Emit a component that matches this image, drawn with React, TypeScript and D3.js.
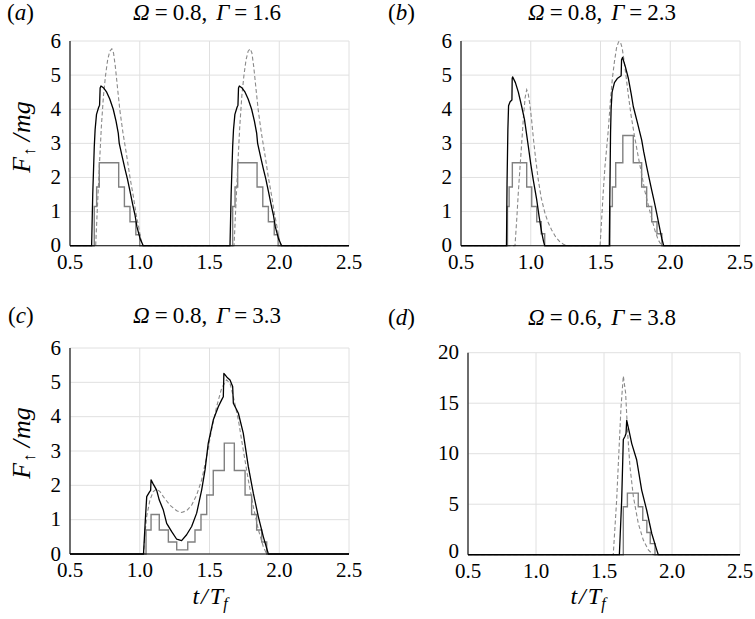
import React from "react";
import * as d3 from "d3";

// ---------- data ----------
const X_TICKS = [0.5, 1.0, 1.5, 2.0, 2.5];
const Y_TICKS_SMALL = [0, 1, 2, 3, 4, 5, 6];
const Y_TICKS_LARGE = [0, 5, 10, 15, 20];

const TITLES = [
  { omega: "0.8", gamma: "1.6", tag: "a" },
  { omega: "0.8", gamma: "2.3", tag: "b" },
  { omega: "0.8", gamma: "3.3", tag: "c" },
  { omega: "0.6", gamma: "3.8", tag: "d" },
];

// Panel (a)
const blackA: [number, number][] = [
  [0.5, 0], [0.655, 0], [0.663, 1.5], [0.674, 2.9], [0.68, 3.4], [0.69, 3.85], [0.705, 4.05], [0.712, 4.12],
  [0.716, 4.62], [0.722, 4.68], [0.742, 4.62], [0.763, 4.5], [0.785, 4.3], [0.81, 4.0], [0.83, 3.65],
  [0.846, 3.3], [0.853, 3.0], [0.872, 2.65], [0.894, 2.25], [0.912, 1.95], [0.93, 1.6], [0.95, 1.2],
  [0.966, 0.9], [0.98, 0.55], [0.99, 0.4], [1.003, 0.2], [1.014, 0.1], [1.025, 0],
  [1.647, 0], [1.655, 1.5], [1.666, 2.9], [1.672, 3.4], [1.682, 3.85], [1.697, 4.05], [1.704, 4.12],
  [1.708, 4.62], [1.714, 4.68], [1.734, 4.62], [1.755, 4.5], [1.777, 4.3], [1.802, 4.0], [1.822, 3.65],
  [1.838, 3.3], [1.845, 3.0], [1.864, 2.65], [1.886, 2.25], [1.904, 1.95], [1.922, 1.6], [1.942, 1.2],
  [1.958, 0.9], [1.972, 0.55], [1.982, 0.4], [1.995, 0.2], [2.006, 0.1], [2.017, 0], [2.5, 0],
];
const dashA: [number, number][] = [
  [0.5, 0], [0.684, 0], [0.695, 1.0], [0.71, 2.3], [0.725, 3.5], [0.74, 4.4], [0.755, 5.0], [0.77, 5.45],
  [0.785, 5.7], [0.8, 5.77], [0.812, 5.65], [0.825, 5.25], [0.84, 4.65], [0.858, 3.95], [0.88, 3.3],
  [0.906, 2.65], [0.93, 2.0], [0.954, 1.45], [0.975, 0.9], [0.99, 0.6], [1.005, 0.25], [1.02, 0],
  [1.676, 0], [1.687, 1.0], [1.702, 2.3], [1.717, 3.5], [1.732, 4.4], [1.747, 5.0], [1.762, 5.45],
  [1.777, 5.7], [1.792, 5.77], [1.804, 5.65], [1.817, 5.25], [1.832, 4.65], [1.85, 3.95], [1.872, 3.3],
  [1.898, 2.65], [1.922, 2.0], [1.946, 1.45], [1.967, 0.9], [1.982, 0.6], [1.997, 0.25], [2.012, 0], [2.5, 0],
];
const stepA: [number, number][] = [
  [0.5, 0], [0.674, 1.15], [0.691, 1.72], [0.71, 2.43], [0.849, 1.72], [0.89, 1.15], [0.93, 0.7],
  [0.972, 0.32], [1.0, 0],
  [1.666, 1.15], [1.683, 1.72], [1.702, 2.43], [1.841, 1.72], [1.882, 1.15], [1.922, 0.7],
  [1.964, 0.32], [1.992, 0], [2.5, 0],
];

// Panel (b)
const blackB: [number, number][] = [
  [0.5, 0], [0.826, 0], [0.83, 1.8], [0.836, 3.4], [0.841, 4.1], [0.852, 4.22], [0.865, 4.27],
  [0.867, 4.9], [0.87, 4.95], [0.89, 4.78], [0.911, 4.5], [0.935, 4.08], [0.955, 3.7], [0.966, 3.39],
  [0.983, 2.9], [1.0, 2.4], [1.018, 1.93], [1.043, 1.34], [1.06, 0.85], [1.078, 0.4], [1.092, 0.12], [1.1, 0],
  [1.563, 0], [1.567, 1.5], [1.572, 3.3], [1.576, 4.0], [1.583, 4.5], [1.6, 4.78], [1.62, 4.9],
  [1.648, 4.98], [1.651, 5.45], [1.658, 5.52], [1.678, 5.25], [1.7, 4.9], [1.72, 4.45], [1.735, 4.08],
  [1.765, 3.6], [1.795, 3.1], [1.81, 2.75], [1.831, 2.32], [1.85, 1.95], [1.867, 1.63], [1.885, 1.3],
  [1.903, 0.95], [1.927, 0.46], [1.94, 0.2], [1.953, 0], [2.5, 0],
];
const dashB: [number, number][] = [
  [0.5, 0], [0.887, 0], [0.9, 0.8], [0.91, 1.5], [0.923, 2.3], [0.935, 3.0], [0.948, 3.8], [0.96, 4.35],
  [0.971, 4.57], [0.982, 4.45], [0.995, 4.1], [1.007, 3.65], [1.02, 3.1], [1.035, 2.55], [1.054, 1.93],
  [1.075, 1.4], [1.102, 0.95], [1.125, 0.68], [1.15, 0.46], [1.18, 0.25], [1.21, 0.11], [1.235, 0.04],
  [1.258, 0], [1.497, 0], [1.51, 0.9], [1.52, 1.6], [1.532, 2.32], [1.545, 2.9], [1.556, 3.4], [1.57, 4.2],
  [1.585, 4.9], [1.6, 5.4], [1.615, 5.8], [1.63, 5.98], [1.642, 5.98], [1.655, 5.8], [1.67, 5.4],
  [1.685, 4.9], [1.7, 4.4], [1.72, 3.8], [1.74, 3.3], [1.771, 2.6], [1.795, 2.1], [1.818, 1.6],
  [1.845, 1.15], [1.867, 0.8], [1.89, 0.45], [1.914, 0.17], [1.938, 0], [2.5, 0],
];
const stepB: [number, number][] = [
  [0.5, 0], [0.833, 1.15], [0.845, 1.72], [0.868, 2.43], [0.971, 1.72], [1.007, 1.15], [1.043, 0.7],
  [1.075, 0.35], [1.1, 0],
  [1.568, 1.15], [1.585, 1.72], [1.609, 2.43], [1.66, 3.23], [1.735, 2.43], [1.795, 1.72],
  [1.831, 1.15], [1.867, 0.7], [1.905, 0.35], [1.94, 0], [2.5, 0],
];

// Panel (c)
const blackC: [number, number][] = [
  [0.5, 0], [1.027, 0], [1.04, 1.0], [1.05, 1.67], [1.069, 1.8], [1.078, 1.85], [1.081, 2.16],
  [1.095, 2.05], [1.121, 1.86], [1.14, 1.57], [1.169, 1.28], [1.193, 0.89], [1.229, 0.65], [1.265, 0.43],
  [1.3, 0.39], [1.336, 0.56], [1.372, 0.8], [1.408, 1.19], [1.444, 1.87], [1.468, 2.45], [1.491, 3.22],
  [1.527, 3.9], [1.563, 4.29], [1.587, 4.49], [1.599, 4.58], [1.603, 5.26], [1.625, 5.15], [1.647, 5.07],
  [1.666, 4.88], [1.671, 4.39], [1.707, 4.1], [1.742, 3.52], [1.778, 2.55], [1.814, 1.77], [1.85, 1.09],
  [1.886, 0.5], [1.922, 0], [2.5, 0],
];
const dashC: [number, number][] = [
  [0.5, 0], [1.027, 0], [1.04, 0.7], [1.05, 1.1], [1.073, 1.57], [1.097, 1.82], [1.121, 1.89],
  [1.145, 1.82], [1.169, 1.67], [1.217, 1.42], [1.265, 1.26], [1.3, 1.21], [1.336, 1.26], [1.372, 1.42],
  [1.408, 1.72], [1.444, 2.16], [1.48, 2.84], [1.515, 3.62], [1.551, 4.29], [1.587, 4.83], [1.623, 5.07],
  [1.647, 4.97], [1.671, 4.58], [1.707, 3.9], [1.742, 3.03], [1.778, 2.16], [1.814, 1.38], [1.85, 0.71],
  [1.886, 0.21], [1.91, 0], [2.5, 0],
];
const stepC: [number, number][] = [
  [0.5, 0], [1.045, 0.7], [1.081, 1.15], [1.14, 0.7], [1.205, 0.35], [1.265, 0.12], [1.344, 0.35],
  [1.396, 0.7], [1.439, 1.15], [1.48, 1.72], [1.527, 2.43], [1.606, 3.23], [1.678, 2.43], [1.755, 1.72],
  [1.802, 1.15], [1.838, 0.7], [1.874, 0.35], [1.91, 0], [2.5, 0],
];

// Panel (d)
const blackD: [number, number][] = [
  [0.5, 0], [1.613, 0], [1.63, 5.4], [1.642, 11.4], [1.654, 11.7], [1.662, 12.0], [1.667, 13.3],
  [1.685, 12.2], [1.704, 11.0], [1.74, 9.4], [1.777, 6.4], [1.814, 4.4], [1.851, 2.1], [1.887, 0.5],
  [1.899, 0], [2.5, 0],
];
const dashD: [number, number][] = [
  [0.5, 0], [1.568, 0], [1.593, 5.4], [1.61, 10.3], [1.625, 14.6], [1.642, 17.7], [1.659, 16.0],
  [1.674, 12.0], [1.691, 8.7], [1.716, 5.75], [1.752, 3.1], [1.789, 1.45], [1.826, 0.47], [1.862, 0], [2.5, 0],
];
const stepD: [number, number][] = [
  [0.5, 0], [1.642, 4.75], [1.672, 6.1], [1.752, 4.75], [1.785, 3.4], [1.815, 2.2], [1.84, 1.1],
  [1.875, 0], [2.5, 0],
];

const SERIES = [
  { black: blackA, dash: dashA, step: stepA },
  { black: blackB, dash: dashB, step: stepB },
  { black: blackC, dash: dashC, step: stepC },
  { black: blackD, dash: dashD, step: stepD },
];

// ---------- layout ----------
const LAYOUT = [
  { left: 70, right: 349, top: 41, bottom: 245.7, yMax: 6, yTicks: Y_TICKS_SMALL, titleX: 207, titleY: 20, tagX: 7, yLabel: 137, xLabel: null as number | null, zeroUp: 0 },
  { left: 461, right: 740, top: 41, bottom: 245.7, yMax: 6, yTicks: Y_TICKS_SMALL, titleX: 602, titleY: 20, tagX: 388, yLabel: null as number | null, xLabel: null as number | null, zeroUp: 0 },
  { left: 70, right: 349, top: 348, bottom: 554, yMax: 6, yTicks: Y_TICKS_SMALL, titleX: 207, titleY: 323, tagX: 8, yLabel: 443, xLabel: 210, zeroUp: 0 },
  { left: 468, right: 740, top: 352.7, bottom: 554.7, yMax: 20, yTicks: Y_TICKS_LARGE, titleX: 602, titleY: 325, tagX: 388, yLabel: null as number | null, xLabel: 588, zeroUp: 3 },
];

const SERIF = { fontFamily: '"Liberation Serif"' };

function Panel({ idx }: { idx: number }) {
  const L = LAYOUT[idx];
  const S = SERIES[idx];
  const T = TITLES[idx];
  const x = d3.scaleLinear().domain([0.5, 2.5]).range([L.left, L.right]);
  const y = d3.scaleLinear().domain([0, L.yMax]).range([L.bottom, L.top]);
  const line = d3.line<[number, number]>().x((d) => x(d[0])).y((d) => y(d[1]));
  const stepLine = d3
    .line<[number, number]>()
    .x((d) => x(d[0]))
    .y((d) => y(d[1]))
    .curve(d3.curveStepAfter);

  return (
    <g>
      {X_TICKS.map((t) => (
        <line key={"gx" + t} x1={x(t)} x2={x(t)} y1={L.top} y2={L.bottom} stroke="#e0e0e0" strokeWidth={1} />
      ))}
      {L.yTicks.map((t) => (
        <line key={"gy" + t} x1={L.left} x2={L.right} y1={y(t)} y2={y(t)} stroke="#e0e0e0" strokeWidth={1} />
      ))}
      <path d={stepLine(S.step) || ""} fill="none" stroke="#808080" strokeWidth={1.4} />
      <path d={line(S.dash) || ""} fill="none" stroke="#8a8a8a" strokeWidth={1.1} strokeDasharray="4,2.5" />
      <path d={line(S.black) || ""} fill="none" stroke="#000" strokeWidth={1.3} strokeLinejoin="round" />
      <line x1={L.left} x2={L.left} y1={L.top} y2={L.bottom} stroke="#000" strokeWidth={1.1} />
      <line x1={L.left} x2={L.right} y1={L.bottom} y2={L.bottom} stroke="#000" strokeWidth={1.1} />
      {X_TICKS.map((t) => (
        <text key={"tx" + t} x={x(t)} y={L.bottom + 23} textAnchor="middle" fontSize={21} style={SERIF}>
          {t.toFixed(1)}
        </text>
      ))}
      {L.yTicks.map((t) => (
        <text
          key={"ty" + t}
          x={L.left - 9}
          y={y(t) - (t === 0 ? L.zeroUp : 0)}
          dy="0.32em"
          textAnchor="end"
          fontSize={21}
          style={SERIF}
        >
          {t}
        </text>
      ))}
      <text x={L.tagX} y={L.titleY} fontSize={23} style={SERIF}>
        (<tspan fontStyle="italic">{T.tag}</tspan>)
      </text>
      <text x={L.titleX} y={L.titleY} textAnchor="middle" fontSize={23} style={SERIF}>
        <tspan fontStyle="italic">Ω</tspan>
        <tspan dx={5}>=</tspan>
        <tspan dx={5}>{T.omega + ","}</tspan>
        <tspan dx={9} fontStyle="italic">Γ</tspan>
        <tspan dx={5}>=</tspan>
        <tspan dx={5}>{T.gamma}</tspan>
      </text>
      {L.yLabel !== null && (
        <text
          transform={`translate(${30},${L.yLabel}) rotate(-90)`}
          textAnchor="middle"
          fontSize={26}
          style={SERIF}
        >
          <tspan fontStyle="italic">F</tspan>
          <tspan fontSize={17} dy={5} dx={1}>↑</tspan>
          <tspan fontStyle="italic" dy={-5} dx={6}>/</tspan>
          <tspan fontStyle="italic" dx={1}>mg</tspan>
        </text>
      )}
      {L.xLabel !== null && (
        <text x={L.xLabel} y={604} textAnchor="middle" fontSize={24} fontStyle="italic" style={SERIF}>
          t<tspan dx={2}>/</tspan>
          <tspan dx={2}>T</tspan>
          <tspan fontSize={16} dy={5}>f</tspan>
        </text>
      )}
    </g>
  );
}

export default function App() {
  return (
    <svg width={755} height={619} style={{ position: "absolute", left: 0, top: 0, fontFamily: '"Liberation Serif"' }}>
      <rect x={0} y={0} width={755} height={619} fill="#fff" />
      {[0, 1, 2, 3].map((i) => (
        <Panel key={i} idx={i} />
      ))}
    </svg>
  );
}
